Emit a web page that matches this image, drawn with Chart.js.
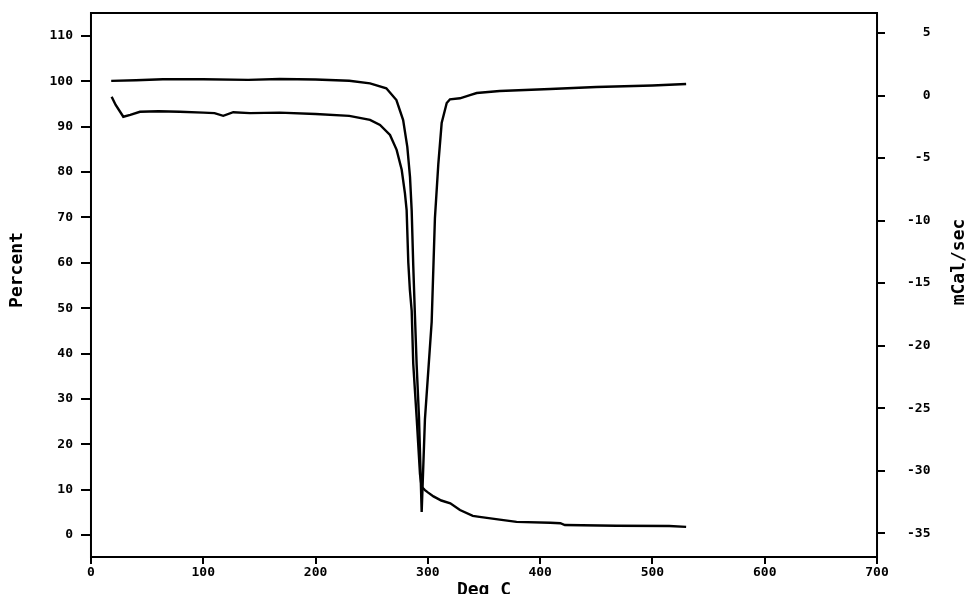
<!DOCTYPE html>
<html>
<head>
<meta charset="utf-8">
<script src="https://cdn.jsdelivr.net/npm/chart.js@4/dist/chart.umd.min.js"></script>
<style>
  body { margin: 0; background: #fff; }
</style>
</head>
<body>
<canvas id="thermoChart" width="969" height="594"></canvas>
<script>
// TGA curve (left axis, Percent)
const tgaTemp = [18.4, 22, 28.8, 35, 43.6, 60, 79, 100, 110, 117.8, 126.7, 141.6, 168, 200, 230, 248.5, 257.4, 266.3, 272.2, 276.7, 279.6, 281.1, 282.6, 284, 285.6, 287, 290, 293, 294.5, 297.4, 300, 305, 312, 320, 328.6, 340, 346, 364, 379, 409, 418, 422, 468, 515, 530];
const tgaPercent = [96.6, 94.8, 92.2, 92.6, 93.3, 93.4, 93.3, 93.1, 93.0, 92.4, 93.2, 93.0, 93.1, 92.8, 92.4, 91.5, 90.4, 88.2, 84.9, 80.5, 75.3, 71.6, 60, 54, 49.4, 37.7, 26, 13.4, 10.6, 9.9, 9.4, 8.5, 7.6, 7.0, 5.5, 4.2, 4.0, 3.4, 2.9, 2.7, 2.6, 2.2, 2.05, 1.98, 1.8];

// DSC curve (right axis, mCal/sec)
const dscTemp = [18, 40, 64, 100, 140, 168, 200, 230, 248.5, 263, 272, 278, 281.7, 284.1, 285.6, 287, 288.5, 290, 292.1, 294.5, 297.4, 303.4, 306.3, 309.3, 312.3, 316.8, 319.7, 328.6, 337.5, 343.5, 364, 409, 450, 500, 530];
const dscHeat = [1.17, 1.22, 1.3, 1.3, 1.25, 1.32, 1.28, 1.18, 0.97, 0.58, -0.36, -1.96, -4.1, -6.5, -9.2, -13.6, -17.6, -21.5, -25.7, -33.3, -25.9, -18.1, -9.8, -5.5, -2.2, -0.6, -0.3, -0.22, 0.04, 0.2, 0.36, 0.52, 0.68, 0.8, 0.92];

const xTicks = [0, 100, 200, 300, 400, 500, 600, 700];
const percentTicks = [0, 10, 20, 30, 40, 50, 60, 70, 80, 90, 100, 110];
const heatTicks = [-35, -30, -25, -20, -15, -10, -5, 0, 5];

const monoFont = "'DejaVu Sans Mono'";
const tickFont = { family: monoFont, size: 13, weight: "bold", lineHeight: 1 };
const titleFont = "bold 18px " + monoFont;

const toPoints = (xs, ys) => xs.map((x, i) => ({ x: x, y: ys[i] }));
const setTicks = list => scale => { scale.ticks = list.map(v => ({ value: v })); };
const noEdgePadding = scale => {
    scale.paddingTop = 0; scale.paddingBottom = 0;
    scale.paddingLeft = 0; scale.paddingRight = 0;
};

//frame round the plot and the two rotated y titles
const framePlugin = {
    id: "frame",
    afterDraw(chart) {
        const { ctx, chartArea } = chart;
        ctx.save();
        ctx.strokeStyle = "#000";
        ctx.lineWidth = 2;
        ctx.strokeRect(chartArea.left, chartArea.top, chartArea.right - chartArea.left, chartArea.bottom - chartArea.top);
        ctx.restore();

        [["Percent", 17, 270], ["mCal/sec", 959, 262]].forEach(([text, x, y]) => {
            ctx.save();
            ctx.fillStyle = "#000";
            ctx.font = titleFont;
            ctx.textAlign = "center";
            ctx.textBaseline = "middle";
            ctx.translate(x, y);
            ctx.rotate(-Math.PI / 2);
            ctx.fillText(text, 0, 0);
            ctx.restore();
        });
    }
};

const tickGrid = len => ({ display: true, drawOnChartArea: false, drawTicks: true, tickLength: len, color: "#000", lineWidth: 2 });

new Chart(document.getElementById("thermoChart"), {
    type: "line",
    data: {
        datasets: [
            {
                label: "Percent",
                data: toPoints(tgaTemp, tgaPercent),
                yAxisID: "y",
                borderColor: "#000",
                borderWidth: 2.4,
                pointRadius: 0,
                fill: false
            },
            {
                label: "mCal/sec",
                data: toPoints(dscTemp, dscHeat),
                yAxisID: "y2",
                borderColor: "#000",
                borderWidth: 2.4,
                pointRadius: 0,
                fill: false
            }
        ]
    },
    options: {
        responsive: false,
        animation: false,
        layout: { padding: { left: 41.5, right: 38.5, top: 13, bottom: -5 } },
        plugins: { legend: { display: false }, tooltip: { enabled: false } },
        scales: {
            x: {
                type: "linear",
                min: 0,
                max: 700,
                afterBuildTicks: setTicks(xTicks),
                afterFit: noEdgePadding,
                grid: tickGrid(7),
                border: { display: false },
                ticks: { color: "#000", font: tickFont, padding: 2, maxRotation: 0 },
                title: { display: true, text: "Deg C", color: "#000", font: { family: monoFont, size: 18, weight: "bold", lineHeight: 1 }, padding: 0 }
            },
            y: {
                type: "linear",
                position: "left",
                min: -4.85,
                max: 115.07,
                afterBuildTicks: setTicks(percentTicks),
                afterFit: noEdgePadding,
                grid: tickGrid(10),
                border: { display: false },
                ticks: { color: "#000", font: tickFont, padding: 8 }
            },
            y2: {
                type: "linear",
                position: "right",
                min: -36.9,
                max: 6.6,
                afterBuildTicks: setTicks(heatTicks),
                afterFit: noEdgePadding,
                grid: tickGrid(8),
                border: { display: false },
                ticks: { color: "#000", font: tickFont, padding: 11, crossAlign: "far" }
            }
        }
    },
    plugins: [framePlugin]
});
</script>
</body>
</html>
